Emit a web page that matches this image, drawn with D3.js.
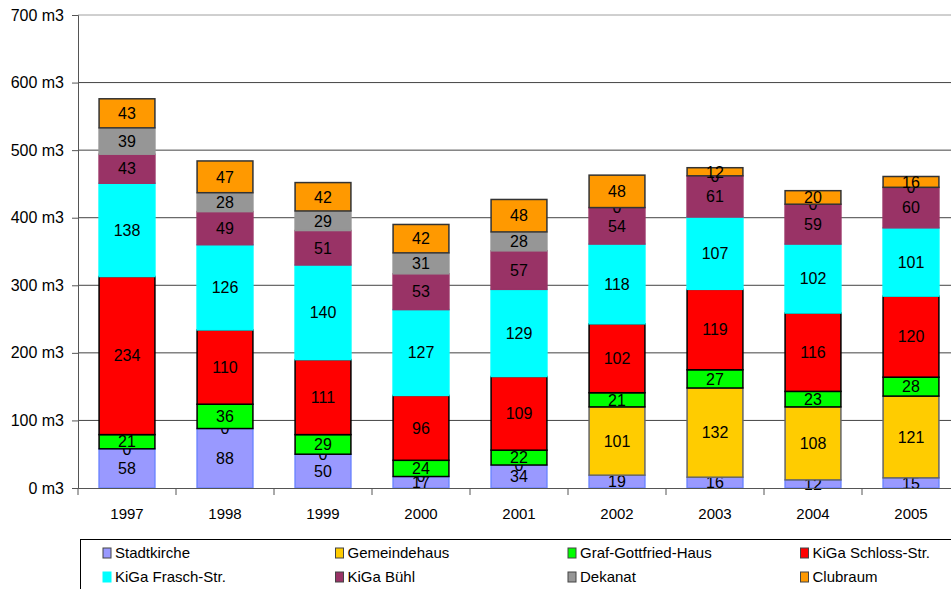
<!DOCTYPE html>
<html>
<head>
<meta charset="utf-8">
<script src="https://cdn.jsdelivr.net/npm/d3@7"></script>
<style>
  body { margin: 0; background: #fff; }
  svg { display: block; font-family: Arial, "Liberation Sans", sans-serif; }
</style>
</head>
<body>
<div id="chart"></div>
<script>
// years on the x axis
var years = ["1997", "1998", "1999", "2000", "2001", "2002", "2003", "2004", "2005"];

// series, stacked bottom to top
var seriesNames = ["Stadtkirche", "Gemeindehaus", "Graf-Gottfried-Haus", "KiGa Schloss-Str.",
  "KiGa Frasch-Str.", "KiGa Bühl", "Dekanat", "Clubraum"];

var stadtkirche   = [58, 88, 50, 17, 34, 19, 16, 12, 15];
var gemeindehaus  = [0, 0, 0, 0, 0, 101, 132, 108, 121];
var grafGottfried = [21, 36, 29, 24, 22, 21, 27, 23, 28];
var kigaSchloss   = [234, 110, 111, 96, 109, 102, 119, 116, 120];
var kigaFrasch    = [138, 126, 140, 127, 129, 118, 107, 102, 101];
var kigaBuehl     = [43, 49, 51, 53, 57, 54, 61, 59, 60];
var dekanat       = [39, 28, 29, 31, 28, 0, 0, 0, 0];
var clubraum      = [43, 47, 42, 42, 48, 48, 12, 20, 16];

var yTicks = [0, 100, 200, 300, 400, 500, 600, 700];

var fills   = ["#9999ff", "#ffcc00", "#00ff00", "#ff0000", "#00ffff", "#993366", "#969696", "#ff9900"];
var strokes = ["#6f86ff", "#666666", "#000000", "#000000", "#00ffff", "#993366", "#969696", "#333333"];

var seriesValues = [stadtkirche, gemeindehaus, grafGottfried, kigaSchloss, kigaFrasch, kigaBuehl, dekanat, clubraum];

// build rows for d3.stack
var rows = years.map(function (yr, i) {
  var r = { year: yr };
  seriesNames.forEach(function (s, j) { r[s] = seriesValues[j][i]; });
  return r;
});

var W = 951, H = 589;
var margin = { top: 15, left: 78, bottom: 101 };
var plotH = H - margin.top - margin.bottom; // 473
var bandW = 98;

var svg = d3.select("#chart").append("svg")
  .attr("width", W)
  .attr("height", H);

var x = d3.scaleBand()
  .domain(years)
  .range([margin.left, margin.left + bandW * years.length])
  .paddingInner(0.42)
  .paddingOuter(0.21);

var y = d3.scaleLinear()
  .domain([0, 700])
  .range([margin.top + plotH, margin.top]);

// gridlines
svg.append("g")
  .selectAll("line")
  .data(yTicks.filter(function (d) { return d > 0; }))
  .enter().append("line")
  .attr("x1", margin.left)
  .attr("x2", W)
  .attr("y1", function (d) { return y(d); })
  .attr("y2", function (d) { return y(d); })
  .attr("stroke", function (d) { return d === 700 ? "#a0a0a0" : "#444"; })
  .attr("stroke-width", 1);

// y axis
var yAxis = svg.append("g")
  .attr("transform", "translate(" + margin.left + ",0)")
  .call(d3.axisLeft(y).tickValues(yTicks).tickSize(6).tickPadding(8)
    .tickFormat(function (d) { return d + " m3"; }));
yAxis.select(".domain").attr("stroke", "#555");
yAxis.selectAll(".tick line").attr("stroke", "#555");
yAxis.selectAll(".tick text").attr("font-size", "16px").attr("fill", "#000")
  .attr("font-family", "Arial, 'Liberation Sans', sans-serif");

// stacked bars
var stack = d3.stack().keys(seriesNames);
var layers = stack(rows);

var layerG = svg.selectAll(".layer")
  .data(layers)
  .enter().append("g")
  .attr("class", "layer");

layerG.selectAll("rect")
  .data(function (d) { return d.map(function (p) { return { key: d.key, index: d.index, p: p }; }); })
  .enter().append("rect")
  .attr("x", function (d) { return x(d.p.data.year) + 0.5; })
  .attr("width", x.bandwidth() - 1)
  .attr("y", function (d) { return y(d.p[1]); })
  .attr("height", function (d) { return y(d.p[0]) - y(d.p[1]); })
  .attr("fill", function (d) { return fills[d.index]; })
  .attr("stroke", function (d) { return strokes[d.index]; })
  .attr("stroke-width", 1.5);

// value labels
layerG.selectAll("text")
  .data(function (d) { return d.map(function (p) { return { key: d.key, index: d.index, p: p }; }); })
  .enter().append("text")
  .attr("x", function (d) { return x(d.p.data.year) + x.bandwidth() / 2; })
  .attr("y", function (d) { return (y(d.p[0]) + y(d.p[1])) / 2; })
  .attr("dy", "0.36em")
  .attr("text-anchor", "middle")
  .attr("font-size", "16px")
  .attr("fill", "#000")
  .text(function (d) { return d.p.data[d.key]; });

// x axis
var xAxis = svg.append("g")
  .attr("transform", "translate(0," + y(0) + ")")
  .call(d3.axisBottom(x).tickSize(0).tickPadding(20));
xAxis.select(".domain").attr("stroke", "#555");
xAxis.selectAll(".tick text").attr("font-size", "15px").attr("fill", "#000")
  .attr("font-family", "Arial, 'Liberation Sans', sans-serif");

// tick marks between categories
svg.append("g")
  .selectAll("line")
  .data(years.map(function (d, i) { return i; }).concat([years.length]))
  .enter().append("line")
  .attr("x1", function (i) { return margin.left + i * bandW; })
  .attr("x2", function (i) { return margin.left + i * bandW; })
  .attr("y1", y(0))
  .attr("y2", y(0) + 7)
  .attr("stroke", "#555");

// legend
var legend = svg.append("g");
legend.append("rect")
  .attr("x", 80.5).attr("y", 539.5)
  .attr("width", 900).attr("height", 80)
  .attr("fill", "#fff").attr("stroke", "#000");

var legItem = legend.selectAll(".leg")
  .data(seriesNames)
  .enter().append("g")
  .attr("class", "leg")
  .attr("transform", function (d, i) {
    return "translate(" + (103 + (i % 4) * 232.5) + "," + (553 + Math.floor(i / 4) * 24) + ")";
  });

legItem.append("rect")
  .attr("x", 0).attr("y", -5)
  .attr("width", 8).attr("height", 10)
  .attr("fill", function (d, i) { return fills[i]; })
  .attr("stroke", function (d, i) { return i === 4 ? "#00ffff" : "#444"; })
  .attr("stroke-width", 1);

legItem.append("text")
  .attr("x", 12)
  .attr("y", 0)
  .attr("dy", "0.36em")
  .attr("font-size", "15px")
  .attr("font-family", "'Liberation Sans Narrow', Arial, sans-serif")
  .attr("fill", "#000")
  .text(function (d) { return d; });
</script>
</body>
</html>
